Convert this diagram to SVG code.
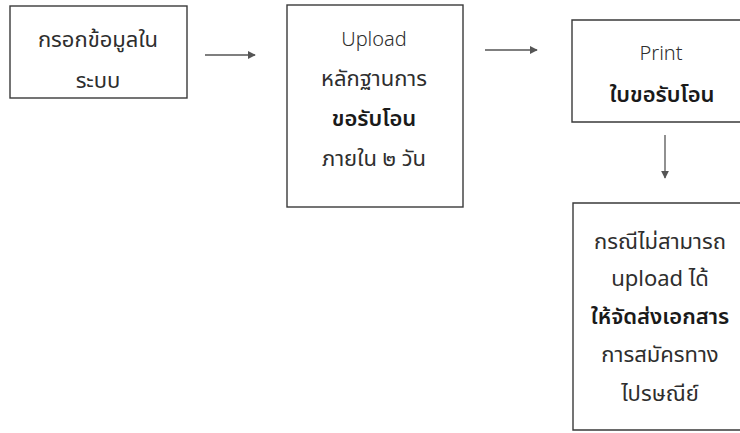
<svg xmlns="http://www.w3.org/2000/svg" width="740" height="433" viewBox="0 0 740 433">
<style>
.box{fill:none;stroke:#3a3a3a;stroke-width:1.4}
.t{font-family:"Noto Sans Thai","Noto Sans","Liberation Sans",sans-serif;font-size:22px;fill:#2e2e2e;text-anchor:middle}
.l{font-size:20px;font-weight:300}
.b{font-weight:600;fill:#1a1a1a}
.c{stroke:#555;stroke-width:1.3;fill:none}
</style>
<defs>
<marker id="ah" viewBox="0 0 10 10" refX="9" refY="5" markerWidth="8" markerHeight="8" markerUnits="userSpaceOnUse" orient="auto">
<path d="M0,0 L10,5 L0,10 z" fill="#555"/>
</marker>
</defs>
<rect x="0" y="0" width="740" height="433" fill="#fff"/>
<g id="n1">
<rect class="box" x="10" y="6" width="177" height="92"/>
<text class="t" x="98" y="47">กรอกข้อมูลใน</text>
<text class="t" x="98" y="88">ระบบ</text>
</g>
<g id="n2">
<rect class="box" x="287" y="5" width="176" height="202"/>
<text class="t l" x="374" y="46">Upload</text>
<text class="t" x="374" y="86">หลักฐานการ</text>
<text class="t b" x="374" y="126">ขอรับโอน</text>
<text class="t" x="374" y="166">ภายใน ๒ วัน</text>
</g>
<g id="n3">
<path class="box" d="M741,20 H572 V122 H741"/>
<text class="t l" x="661" y="60">Print</text>
<text class="t b" x="662" y="102">ใบขอรับโอน</text>
</g>
<g id="n4">
<path class="box" d="M741,203 H573 V430 H741"/>
<text class="t" x="660" y="249">กรณีไม่สามารถ</text>
<text class="t" x="660" y="286">upload ได้</text>
<text class="t b" x="660" y="324">ให้จัดส่งเอกสาร</text>
<text class="t" x="660" y="362">การสมัครทาง</text>
<text class="t" x="660" y="401">ไปรษณีย์</text>
</g>
<g id="connectors">
<line class="c" x1="205" y1="55" x2="255" y2="55" marker-end="url(#ah)"/>
<line class="c" x1="485" y1="50" x2="537" y2="50" marker-end="url(#ah)"/>
<line class="c" x1="665" y1="135" x2="665" y2="178" marker-end="url(#ah)"/>
</g>
</svg>
